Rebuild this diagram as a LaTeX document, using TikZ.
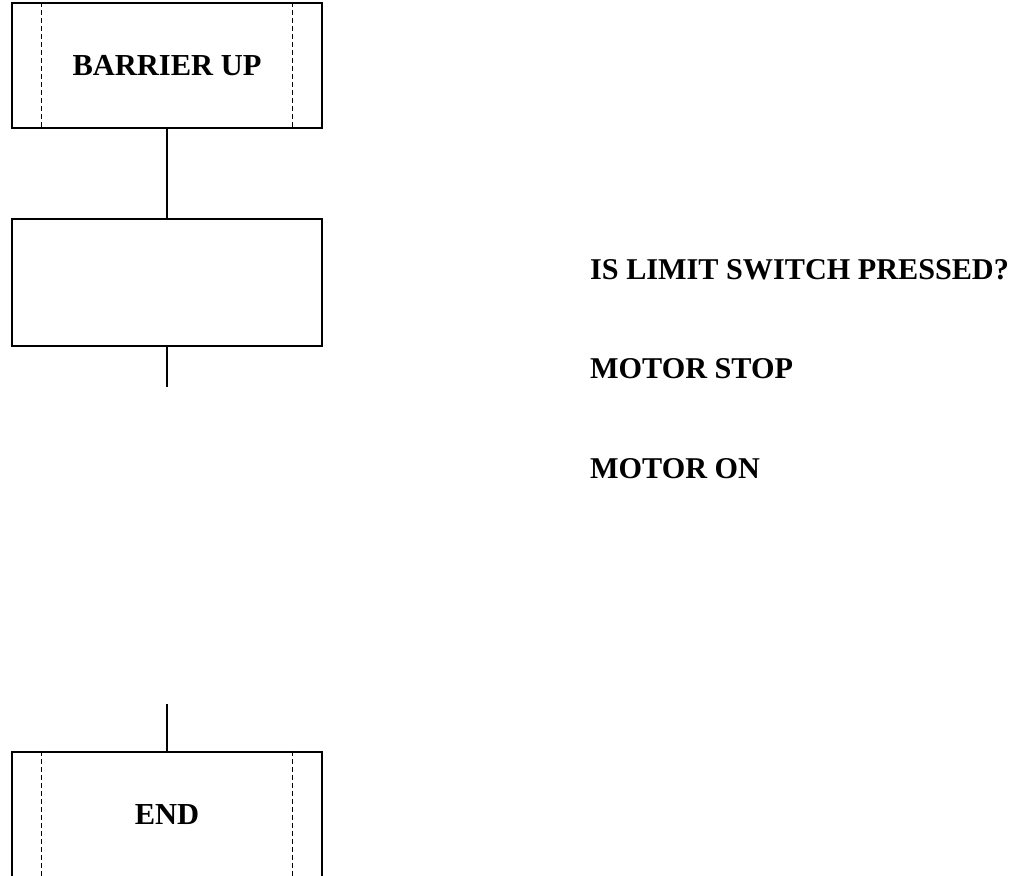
\documentclass[tikz,border=0pt]{standalone}
\usepackage{fontspec}
\setmainfont{Liberation Serif}
\begin{document}
\begin{tikzpicture}[x=1pt,y=-1pt,
  box/.style={draw, line width=2.2pt, minimum width=310pt, minimum height=125pt, inner sep=0pt, font=\fontsize{30.5}{34}\selectfont\bfseries},
  conn/.style={line width=2.2pt},
  sep/.style={line width=0.9pt, dash pattern=on 5pt off 3pt},
  lbl/.style={anchor=base west, inner sep=0pt, font=\fontsize{30.2}{34}\selectfont\bfseries}]
\useasboundingbox (0,0) rectangle (1021,876);
\clip (0,0) rectangle (1021,876);
\node[box] (b1) at (167,65.5) {BARRIER UP};
\node[box, minimum height=127pt] (b2) at (167,282.5) {};
\node[box] (e) at (167,814.5) {END};
\coordinate (c1) at (167,387);
\coordinate (c2) at (167,704);
\draw[sep] ([xshift=31pt]b1.north west) -- ([xshift=31pt]b1.south west);
\draw[sep] ([xshift=-31pt]b1.north east) -- ([xshift=-31pt]b1.south east);
\draw[sep] ([xshift=31pt]e.north west) -- ([xshift=31pt]e.south west);
\draw[sep] ([xshift=-31pt]e.north east) -- ([xshift=-31pt]e.south east);
\draw[conn] (b1.south) -- (b2.north);
\draw[conn] (b2.south) -- (c1);
\draw[conn] (c2) -- (e.north);
\node[lbl] (t1) at (590,279) {IS LIMIT SWITCH PRESSED?};
\node[lbl] (t2) at (590,378) {MOTOR STOP};
\node[lbl] (t3) at (590,478) {MOTOR ON};
\end{tikzpicture}
\end{document}
